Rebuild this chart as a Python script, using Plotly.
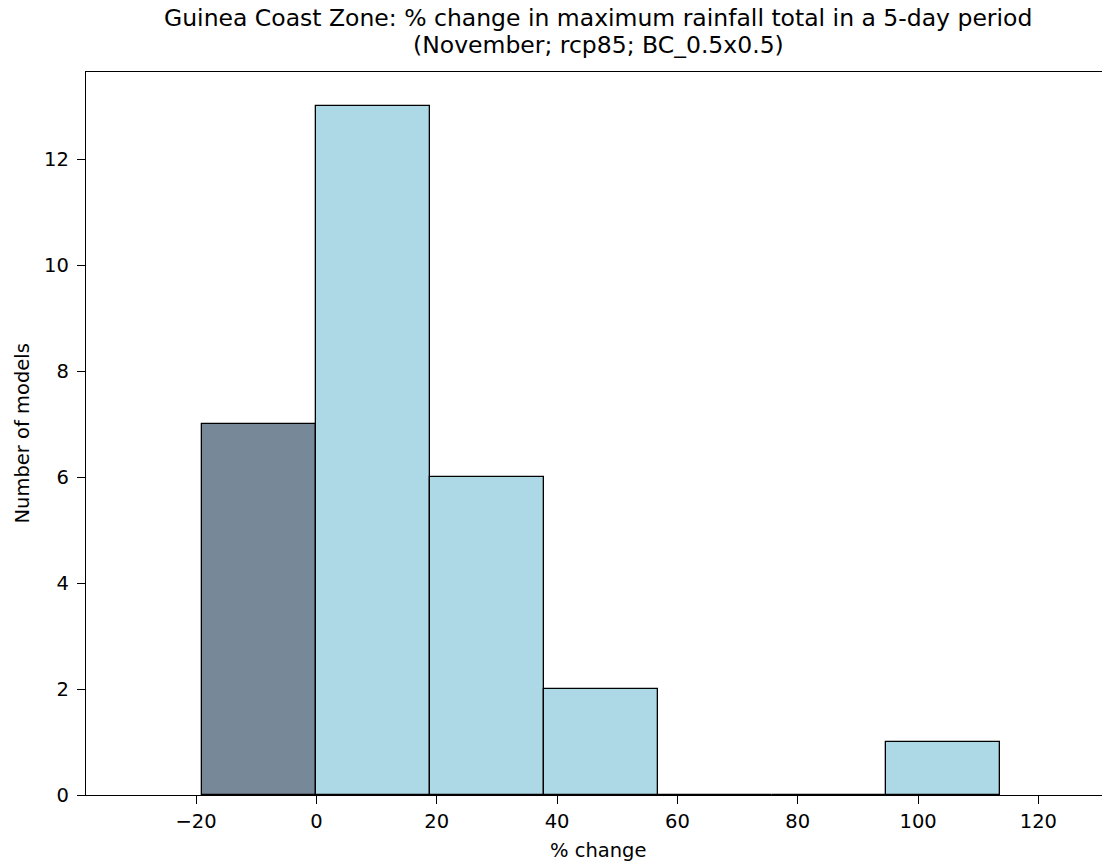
import plotly.graph_objects as go

# Histogram data (bin edges in % change, model counts per bin)
bin_edges = [-18.94, 0.0, 18.94, 37.88, 56.82, 75.76, 94.70, 113.64]
counts = [7, 13, 6, 2, 0, 0, 1]
x_ticks = [-20, 0, 20, 40, 60, 80, 100, 120]
x_tick_labels = ["\u221220", "0", "20", "40", "60", "80", "100", "120"]
y_ticks = [0, 2, 4, 6, 8, 10, 12]
y_tick_labels = ["0", "2", "4", "6", "8", "10", "12"]

title_line1 = "Guinea Coast Zone: % change in maximum rainfall total in a 5-day period"
title_line2 = "(November; rcp85; BC_0.5x0.5)"
x_title = "% change"
y_title = "Number of models"

centers = [(a + b) / 2 for a, b in zip(bin_edges[:-1], bin_edges[1:])]
widths = [b - a for a, b in zip(bin_edges[:-1], bin_edges[1:])]
colors = ["#778899" if b <= 0 else "#ADD8E6" for b in bin_edges[1:]]

FONT = "DejaVu Sans"
OFF = 8  # page body margin in the browser
W, H = 1110 - OFF, 865 - OFF
ML, MR, MT, MB = 78, 0, 64, 70
pw = W - ML - MR
ph = H - MT - MB

fig = go.Figure()
fig.add_trace(go.Bar(
    x=centers, y=counts, width=widths,
    marker=dict(color=colors, line=dict(color="black", width=1.3)),
    hoverinfo="x+y", showlegend=False,
))

def px_to_paper_x(px):
    return (px - OFF - ML) / pw

def px_to_paper_y(py):
    return (H - MB - (py - OFF)) / ph

annos = [
    dict(text=title_line1, x=px_to_paper_x(598), y=px_to_paper_y(18), xref="paper", yref="paper",
         xanchor="center", yanchor="middle", showarrow=False,
         font=dict(family=FONT, size=23.5, color="black")),
    dict(text=title_line2, x=px_to_paper_x(598), y=px_to_paper_y(45), xref="paper", yref="paper",
         xanchor="center", yanchor="middle", showarrow=False,
         font=dict(family=FONT, size=23.5, color="black")),
    dict(text=x_title, x=px_to_paper_x(598), y=px_to_paper_y(850), xref="paper", yref="paper",
         xanchor="center", yanchor="middle", showarrow=False,
         font=dict(family=FONT, size=19.5, color="black")),
    dict(text=y_title, x=px_to_paper_x(22), y=px_to_paper_y(433.5), xref="paper", yref="paper",
         xanchor="center", yanchor="middle", showarrow=False, textangle=-90,
         font=dict(family=FONT, size=19.5, color="black")),
]

fig.update_layout(
    width=W, height=H,
    margin=dict(l=ML, r=MR, t=MT, b=MB, pad=0, autoexpand=False),
    paper_bgcolor="white", plot_bgcolor="white",
    font=dict(family=FONT, size=19.5, color="black"),
    annotations=annos,
    bargap=0,
)
fig.update_xaxes(
    range=[-38.3, 131.9], tickmode="array", tickvals=x_ticks, ticktext=x_tick_labels,
    showgrid=False, zeroline=False, showline=True, linecolor="black", linewidth=1.3,
    mirror=True, ticks="outside", ticklen=8, tickwidth=1.3, tickcolor="black",
    tickfont=dict(family=FONT, size=19.5, color="black"), automargin=False,
)
fig.update_yaxes(
    range=[0, 13.65], tickmode="array", tickvals=y_ticks, ticktext=y_tick_labels,
    showgrid=False, zeroline=False, showline=True, linecolor="black", linewidth=1.3,
    mirror=False, ticks="outside", ticklen=8, tickwidth=1.3, tickcolor="black",
    tickfont=dict(family=FONT, size=19.5, color="black"), automargin=False,
    ticklabelstandoff=4,
)

fig.write_html("out.html")
